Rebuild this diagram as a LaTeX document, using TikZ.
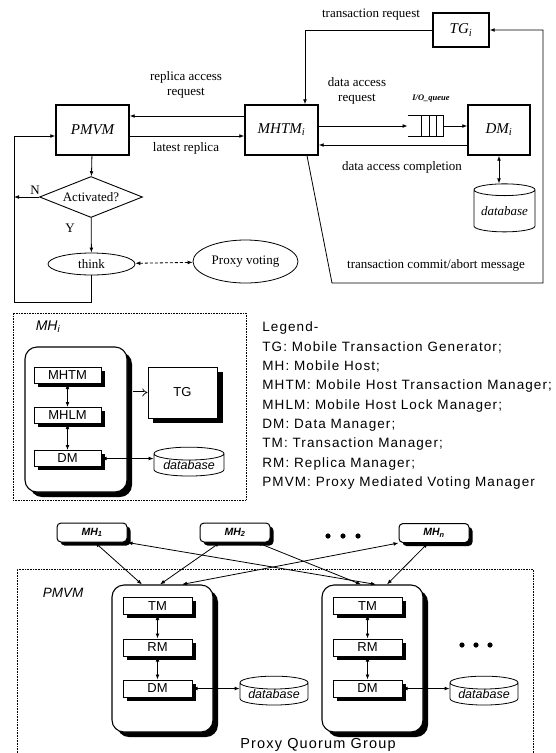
\documentclass[tikz,border=0pt]{standalone}
\usepackage{fontspec}
\setmainfont{Liberation Serif}
\setsansfont{Liberation Sans}
\newfontfamily\legendfont[LetterSpace=8]{Liberation Sans}
\usetikzlibrary{arrows.meta,shapes.geometric}

\begin{document}
\begin{tikzpicture}[x=1pt,y=-1pt,line width=0.8pt,
    >={Latex[length=5pt,width=3.8pt]},
    blk/.style={draw,line width=1.4pt,fill=white,inner sep=0pt,font=\fontsize{15}{17}\selectfont\itshape},
    txt/.style={inner sep=0pt,align=center,font=\fontsize{13}{15}\selectfont},
    oval/.style={draw,ellipse,line width=0.8pt,inner sep=0pt,font=\fontsize{13}{15}\selectfont},
    dotbox/.style={draw,densely dotted,line width=0.6pt},
    mgr/.style={draw,fill=white,line width=1pt,minimum width=67pt,minimum height=16pt,inner sep=0pt,
      font=\sffamily\fontsize{13}{15}\selectfont},
    host/.style={draw,fill=white,rounded corners=12pt,line width=1.1pt},
    mh/.style={draw,fill=white,rounded corners=4pt,line width=1pt,minimum width=70pt,minimum height=19pt,inner sep=0pt,
      font=\sffamily\bfseries\itshape\fontsize{10.5}{12}\selectfont},
    db/.style={draw,fill=white,cylinder,shape border rotate=90,aspect=0.25,inner sep=0pt,line width=0.8pt,
      font=\sffamily\itshape\fontsize{12.5}{14}\selectfont}]
  \useasboundingbox (0,0) rectangle (556,753);

  % --- proxy mediated voting flow ---
  \node[blk,minimum width=73pt,minimum height=50pt] (pmvm) at (92.5,130) {PMVM};
  \node[blk,minimum width=73pt,minimum height=50pt] (mhtm) at (281.5,130) {MHTM\textsubscript{i}};
  \node[blk,minimum width=62pt,minimum height=50pt] (dm) at (499,130) {DM\textsubscript{i}};
  \node[blk,minimum width=56pt,minimum height=34pt] (tg) at (461,30) {TG\textsubscript{i}};
  \node[minimum width=35pt,minimum height=20pt,inner sep=0pt] (queue) at (425.5,126) {};
  \draw (queue.north west) -- (queue.north east) -- (queue.south east) -- (queue.south west);
  \foreach \qx in {13.7,21.3,28.7}
    \draw ([xshift=\qx pt]queue.north west) -- ([xshift=\qx pt]queue.south west);
  \node[inner sep=0pt,font=\fontsize{8.5}{9}\selectfont\bfseries\itshape] (ioq) at (431,99) {I/O\_queue};

  \draw[->] ([yshift=14pt]mhtm.west) -- ([yshift=14pt]pmvm.east);
  \draw[->] ([yshift=-6pt]pmvm.east) -- ([yshift=-6pt]mhtm.west);
  \node[txt] (lra) at (186,85) {replica access\\request};
  \node[txt] (llr) at (186,148) {latest replica};
  \draw[->] ([yshift=4pt]mhtm.east) -- (queue.west);
  \draw[->] (queue.east) -- ([yshift=4pt]dm.west);
  \node[txt] (lda) at (357,91) {data access\\request};
  \draw[->] ([yshift=-15pt]dm.west) -- ([yshift=-15pt]mhtm.east);
  \node[txt] (ldc) at (402,167) {data access completion};
  \node[db,minimum width=61pt,minimum height=48pt,font=\fontsize{13}{15}\selectfont\itshape] (db0) at (504.5,211) {database};
  \draw[<->] (dm.south) -- (dm.south |- db0.north);

  \draw[->] (tg.west) -| ([xshift=23.5pt]mhtm.north);
  \node[txt] (ltr) at (371,15) {transaction request};
  \coordinate (cm1) at (332,283);
  \coordinate (cm2) at (543,283);
  \draw[->] ([xshift=25.5pt]mhtm.south) -- (cm1) -- (cm2) |- (tg.east);
  \node[txt] (lcm) at (436,265) {transaction commit/abort message};

  \node[draw,diamond,aspect=2.5,inner sep=0pt,minimum width=103pt,minimum height=41pt,line width=0.9pt,
    font=\fontsize{13}{15}\selectfont] (act) at (91,197) {Activated?};
  \node[oval,minimum width=87pt,minimum height=22pt] (think) at (91.5,264) {think};
  \node[oval,minimum width=105pt,minimum height=43pt] (proxy) at (245.5,261.5) {Proxy voting};
  \draw[->] (pmvm) -- (act);
  \draw[->] (act) -- (think);
  \draw[<->,densely dashed] (think) -- (proxy);
  \coordinate (lp1) at (91.5,302);
  \coordinate (lp2) at (14,302);
  \draw[->] (think) -- (lp1) -- (lp2) |- ([yshift=-6pt]pmvm.west);
  \draw[->] (act.west) -- (act.west -| lp2);
  \node[txt] (ln) at (35,190) {N};
  \node[txt] (ly) at (70,228) {Y};

  % --- mobile host ---
  \node[dotbox,minimum width=233pt,minimum height=187pt] (mhi) at (129.5,406.5) {};
  \node[inner sep=0pt,font=\sffamily\itshape\fontsize{14}{16}\selectfont] (lmhi) at (48,327) {MH\textsubscript{i}};
  \fill[rounded corners=12pt] (30,352) rectangle (132,497); % shadow
  \node[host,minimum width=102pt,minimum height=145pt] (hst) at (76,419.5) {};
  \foreach \n/\cx/\cy/\lbl in {hmhtm/67.5/375.5/MHTM,hmhlm/67.5/415.5/MHLM,hdm/67.5/458.5/DM}{
    \fill (\cx-30,\cy-4.5) rectangle (\cx+37,\cy+11.5);
    \node[mgr] (\n) at (\cx,\cy) {\lbl};
  }
  \draw[<->] (hmhtm) -- (hmhlm);
  \draw[<->] (hmhlm) -- (hdm);
  \fill (152.5,371.5) rectangle (222.5,422.5);
  \node[mgr,minimum width=69pt,minimum height=51pt] (htg) at (182.5,392.5) {TG};
  \draw[-Implies,double,double distance=2pt,line width=0.7pt] ([xshift=5pt]hst.east |- htg.west) -- (htg.west);
  \node[db,minimum width=70pt,minimum height=26pt] (hdb) at (189,465) {database};
  \draw[<->] (hdm.east) -- (hdm.east -| hdb.west);

  % legend
  \foreach \i/\lbl in {0/Legend-,
      1/{TG: Mobile Transaction Generator;},
      2/{MH: Mobile Host;},
      3/{MHTM: Mobile Host Transaction Manager;},
      4/{MHLM: Mobile Host Lock Manager;},
      5/{DM: Data Manager;},
      6/{TM: Transaction Manager;},
      7/{RM: Replica Manager;},
      8/{PMVM: Proxy Mediated Voting Manager}}{
    \pgfmathsetmacro\ly{328+\i*19.4}
    \node[anchor=west,inner sep=0pt,font=\legendfont\fontsize{13.5}{15}\selectfont] (lg\i) at (262,\ly) {\lbl};
  }

  % --- proxy quorum group ---
  \foreach \n/\cx/\cy/\lbl in {mh1/92/532.5/1,mh2/235/532.5/2,mhn/434/533/n}{
    \fill[rounded corners=4pt] (\cx-31.5,\cy-6) rectangle (\cx+38.5,\cy+13);
    \node[mh] (\n) at (\cx,\cy) {MH\textsubscript{\lbl}};
  }
  \foreach \dx in {328,343,358} \fill (\dx,536) circle (2.6pt);
  \draw[dotbox] (17,753) -- (17,569) -- (533,569) -- (533,753);
  \node[inner sep=0pt,font=\sffamily\itshape\fontsize{13.5}{15}\selectfont] (lpm) at (63,593) {PMVM};
  \foreach \g/\gx in {1/0,2/210}{
    \fill[rounded corners=12pt] (117+\gx,590) rectangle (218+\gx,737);
    \node[host,minimum width=101pt,minimum height=147pt] (q\g) at (162.5+\gx,658.5) {};
    \foreach \r/\ry/\rl in {tm/606/TM,rm/647.5/RM,dm/688.5/DM}{
      \fill (126.5+\gx,\ry-5) rectangle (195.5+\gx,\ry+12);
      \node[mgr,minimum width=69pt,minimum height=17pt] (\r\g) at (157.5+\gx,\ry) {\rl};
    }
    \draw[<->] (tm\g) -- (rm\g);
    \draw[<->] (rm\g) -- (dm\g);
    \node[db,minimum width=68pt,minimum height=28pt] (db\g) at (274+\gx,694) {database};
    \draw[<->] (dm\g.east) -- (dm\g.east -| db\g.west);
  }
  \foreach \dx in {462,476,490} \fill (\dx,645) circle (2.6pt);
  \draw[<->] ([xshift=3pt]mh1.south) -- ([xshift=-20.5pt]q1.north);
  \draw[<->] ([xshift=-15pt]mh2.south) -- ([xshift=-2.5pt]q1.north);
  \draw[<->] (mhn.south west) -- ([xshift=19.5pt]q1.north);
  \draw[<->] (mh1.south east) -- ([xshift=3.5pt]q2.north);
  \draw[<->] ([xshift=22pt]mh2.south) -- ([xshift=-11.5pt]q2.north);
  \draw[<->] ([xshift=-6pt]mhn.south) -- ([xshift=14.5pt]q2.north);
  \node[inner sep=0pt,font=\legendfont\fontsize{14.5}{16}\selectfont] (lpq) at (318,745) {Proxy Quorum Group};
\end{tikzpicture}
\end{document}
